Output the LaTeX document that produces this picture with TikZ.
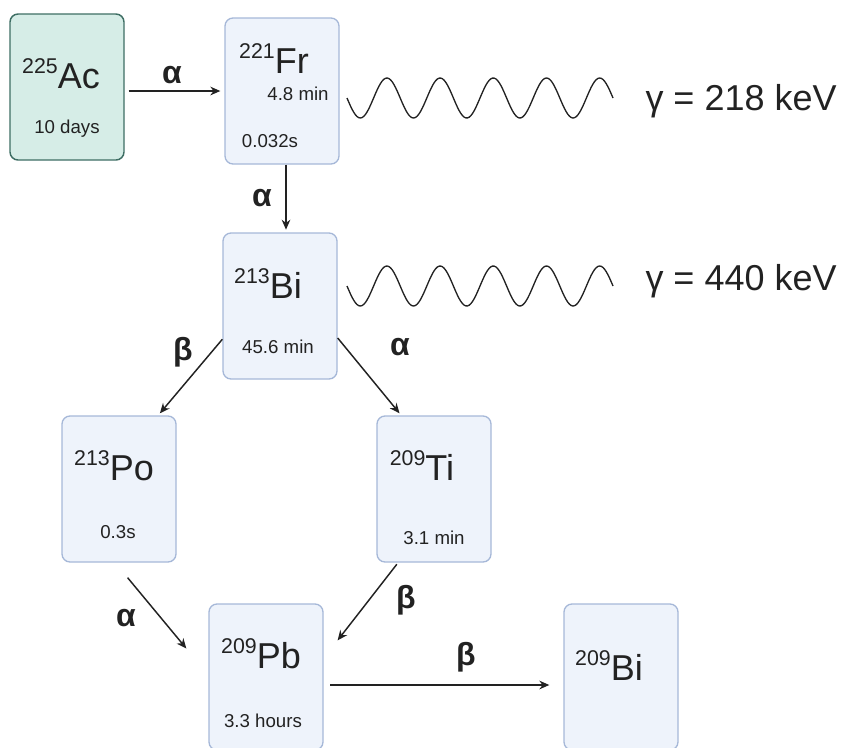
\documentclass[tikz,border=0pt]{standalone}
\usepackage{fontspec}
\setmainfont{Liberation Sans}
\usetikzlibrary{arrows.meta}

\definecolor{boxfill}{RGB}{238,243,251}
\definecolor{boxline}{RGB}{166,184,216}
\definecolor{acfill}{RGB}{214,237,231}
\definecolor{acline}{RGB}{62,110,100}
\definecolor{ink}{RGB}{34,34,34}

% mass number raised in front of the element symbol
\newcommand{\iso}[2]{{\fontsize{16}{16}\selectfont\raisebox{11pt}{#1}}{\fontsize{27}{27}\selectfont #2}}

\tikzset{every picture/.style={line width=0.75pt}}
\tikzset{
  nuclide/.style={draw=boxline, fill=boxfill, rounded corners=6pt, line width=1pt,
    minimum width=85.5pt, minimum height=109.5pt, inner sep=0pt},
  parent/.style={nuclide, draw=acline, fill=acfill, line width=1.1pt},
  elem/.style={anchor=base, inner sep=0.75pt, text=ink},
  halflife/.style={anchor=base, inner sep=0.75pt, text=ink, font=\fontsize{14}{14}\selectfont},
  decay/.style={draw=ink, line width=1.1pt, -{Stealth[length=7.5pt,width=6.5pt]}},
  mode/.style={inner sep=0.75pt, text=ink, font=\fontsize{24}{24}\selectfont\bfseries},
  photon/.style={draw=ink, line width=1pt},
  energy/.style={anchor=base west, inner sep=0pt, text=ink, font=\fontsize{27}{27}\selectfont}
}

\begin{document}
\begin{tikzpicture}[x=0.75pt,y=0.75pt,yscale=-1,xscale=1]
  \path[use as bounding box] (0,0) rectangle (846,747);
  %Shape: Rectangle (parent and daughters)
  \node[parent] (ac) at (67,87) {};
  \node[nuclide] (fr) at (282,91) {};
  \node[nuclide] (bi) at (280,306) {};
  \node[nuclide] (po) at (119,489) {};
  \node[nuclide] (ti) at (434,489) {};
  \node[nuclide] (pb) at (266,677) {};
  \node[nuclide] (biend) at (621,677) {};
  % Text Node
  \node[elem] (acsym) at (61,88) {\iso{225}{Ac}};
  \node[halflife] (achl) at (67,133) {10 days};
  \node[elem] (frsym) at (274,73) {\iso{221}{Fr}};
  \node[halflife] (frhl) at (298,100) {4.8 min};
  \node[halflife] (frhlb) at (270,147) {0.032s};
  \node[elem] (bisym) at (268,298) {\iso{213}{Bi}};
  \node[halflife] (bihl) at (278,353) {45.6 min};
  \node[elem] (posym) at (114,480) {\iso{213}{Po}};
  \node[halflife] (pohl) at (118,538) {0.3s};
  \node[elem] (tisym) at (422,480) {\iso{209}{Ti}};
  \node[halflife] (tihl) at (434,544) {3.1 min};
  \node[elem] (pbsym) at (261,668) {\iso{209}{Pb}};
  \node[halflife] (pbhl) at (263,727) {3.3 hours};
  \node[elem] (biendsym) at (609,680) {\iso{209}{Bi}};
  %Straight Lines (decays)
  \draw[decay, shorten <=3pt, shorten >=3pt] (ac.east |- fr) -- (fr.west);
  \draw[decay, shorten >=2pt] ([xshift=3pt]fr.south) -- ([xshift=3pt]fr.south |- bi.north);
  \draw[decay, shorten >=2pt] (bi.210) -- (po.62);
  \draw[decay, shorten >=2pt] (bi.-29) -- (ti.114);
  \draw[decay, shorten <=14.6pt, shorten >=25.8pt] (po.267) -- (pb.178);
  \draw[decay, shorten <=1.5pt, shorten >=17pt] (ti.244) -- (pb.18);
  \draw[decay, shorten <=5pt, shorten >=10.5pt] ([yshift=6pt]pb.east) -- ([yshift=6pt]biend.west);
  % Text Node (decay modes)
  \node[mode] (afr) at (172,75) {α};
  \node[mode] (abi) at (262,198) {α};
  \node[mode] (bpo) at (183,352) {β};
  \node[mode] (ati) at (400,347) {α};
  \node[mode] (apb) at (126,618) {α};
  \node[mode] (bpb) at (406,600) {β};
  \node[mode] (bend) at (466,657) {β};
  %Curve Lines (gamma emission)
  \draw[photon] plot[domain=347:613, samples=160, smooth] (\x,{98+20*sin((\x-347)/53.2*360)});
  \draw[photon] plot[domain=347:613, samples=160, smooth] (\x,{286+20*sin((\x-347)/53.2*360)});
  \node[energy] (gfr) at (645,110) {γ = 218 keV};
  \node[energy] (gbi) at (645,290) {γ = 440 keV};
\end{tikzpicture}
\end{document}
